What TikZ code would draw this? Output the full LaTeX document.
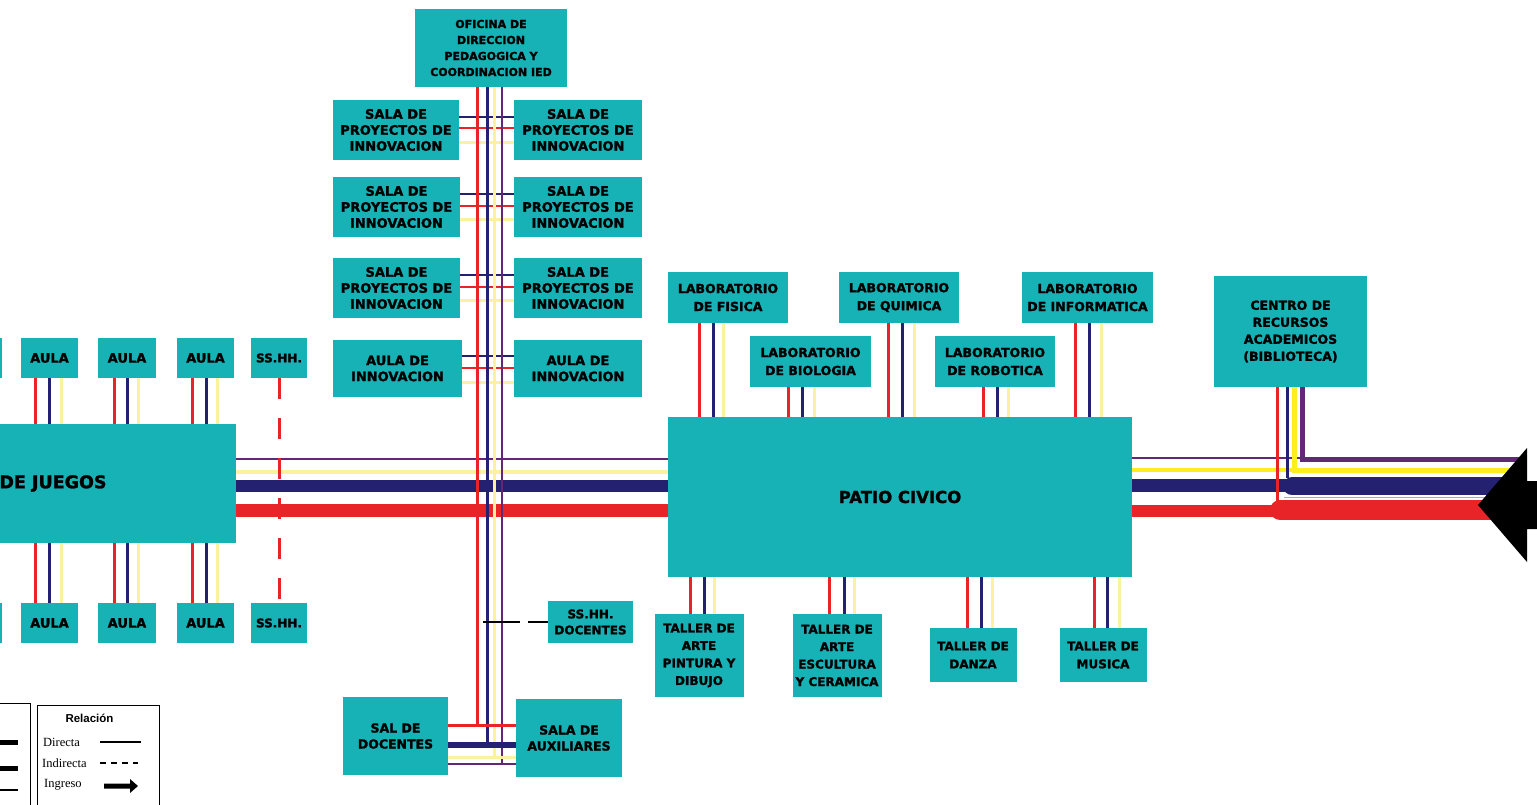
\documentclass[tikz,border=0pt]{standalone}
\usepackage{fontspec}
\setmainfont{Liberation Serif}
\newfontfamily\boxfont{DejaVu Sans}[BoldFeatures={FakeBold=1.5}]
\newfontfamily\legsans{Liberation Sans}
\definecolor{tealbox}{RGB}{22,178,182}
\definecolor{lred}{RGB}{232,36,40}
\definecolor{lnavy}{RGB}{36,34,112}
\definecolor{lyel}{RGB}{250,242,160}
\definecolor{byel}{RGB}{255,238,30}
\definecolor{lpur}{RGB}{98,40,118}
% vertical triple connector: #1 upper node, #2 lower node, #3 x red, #4 x navy, #5 x yellow
\newcommand\linkv[5]{%
  \draw[cr] (#3,0 |- #1.south) -- (#3,0 |- #2.north);
  \draw[cn] (#4,0 |- #1.south) -- (#4,0 |- #2.north);
  \draw[cy] (#5,0 |- #1.south) -- (#5,0 |- #2.north);}
% horizontal triple connector: #1 left node, #2 right node, #3 y navy, #4 y red, #5 y yellow
\newcommand\linkh[5]{%
  \draw[cn,line width=2.5pt] (#1.east |- 0,#3) -- (#2.west |- 0,#3);
  \draw[cr,line width=2.5pt] (#1.east |- 0,#4) -- (#2.west |- 0,#4);
  \draw[cy] (#1.east |- 0,#5) -- (#2.west |- 0,#5);}
\begin{document}
\begin{tikzpicture}[x=1pt,y=-1pt,
  box/.style={fill=tealbox, inner sep=0pt, align=center, text=black,
    font=\boxfont\bfseries\fontsize{13}{16}\selectfont},
  lab/.style={box, font=\boxfont\bfseries\fontsize{12.5}{18}\selectfont},
  tal/.style={box, font=\boxfont\bfseries\fontsize{12}{17.5}\selectfont},
  cr/.style={draw=lred, line width=3pt},
  cn/.style={draw=lnavy, line width=3pt},
  cy/.style={draw=lyel, line width=3pt},
  cp/.style={draw=lpur, line width=2pt},
  crd/.style={cr, dash pattern=on 21pt off 19pt},
  cbd/.style={draw=black, line width=2pt, dash pattern=on 37pt off 8pt},
  leg/.style={font=\fontsize{12.5}{14}\selectfont, anchor=west, inner sep=0pt}
]
\useasboundingbox (0,0) rectangle (1537,805);
\clip (0,0) rectangle (1537,805);

% ---------- boxes ----------
\node[box, minimum width=152pt, minimum height=78pt,
  font=\boxfont\bfseries\fontsize{11}{16}\selectfont] (office) at (491,48)
  {OFICINA DE\\DIRECCION\\PEDAGOGICA Y\\COORDINACION IED};
\node[box, minimum width=126pt, minimum height=60pt] (s1l) at (396,130) {SALA DE\\PROYECTOS DE\\INNOVACION};
\node[box, minimum width=128pt, minimum height=60pt] (s1r) at (578,130) {SALA DE\\PROYECTOS DE\\INNOVACION};
\node[box, minimum width=127pt, minimum height=60pt] (s2l) at (396.5,207) {SALA DE\\PROYECTOS DE\\INNOVACION};
\node[box, minimum width=128pt, minimum height=60pt] (s2r) at (578,207) {SALA DE\\PROYECTOS DE\\INNOVACION};
\node[box, minimum width=127pt, minimum height=60pt] (s3l) at (396.5,288) {SALA DE\\PROYECTOS DE\\INNOVACION};
\node[box, minimum width=128pt, minimum height=60pt] (s3r) at (578,288) {SALA DE\\PROYECTOS DE\\INNOVACION};
\node[box, minimum width=129pt, minimum height=57pt] (a4l) at (397.5,368.5) {AULA DE\\INNOVACION};
\node[box, minimum width=128pt, minimum height=57pt] (a4r) at (578,368.5) {AULA DE\\INNOVACION};

\node[box, minimum width=366pt, minimum height=119pt,
  font=\boxfont\bfseries\fontsize{17.5}{20}\selectfont] (juegos) at (53,483.5) {DE JUEGOS};
\node[box, minimum width=56pt, minimum height=40pt] (p1t) at (-26,358) {};
\node[box, minimum width=56pt, minimum height=40pt] (p1b) at (-26,623) {};
\node[box, minimum width=57pt, minimum height=40pt] (a1t) at (49.5,358) {AULA};
\node[box, minimum width=58pt, minimum height=40pt] (a2t) at (127,358) {AULA};
\node[box, minimum width=57pt, minimum height=40pt] (a3t) at (205.5,358) {AULA};
\node[box, minimum width=56pt, minimum height=40pt, font=\boxfont\bfseries\fontsize{12}{16}\selectfont] (sst) at (279,358) {SS.HH.};
\node[box, minimum width=57pt, minimum height=40pt] (a1b) at (49.5,623) {AULA};
\node[box, minimum width=58pt, minimum height=40pt] (a2b) at (127,623) {AULA};
\node[box, minimum width=57pt, minimum height=40pt] (a3b) at (205.5,623) {AULA};
\node[box, minimum width=56pt, minimum height=40pt, font=\boxfont\bfseries\fontsize{12}{16}\selectfont] (ssb) at (279,623) {SS.HH.};

\node[box, minimum width=464pt, minimum height=160pt,
  font=\boxfont\bfseries\fontsize{16.5}{19}\selectfont] (patio) at (900,497) {PATIO CIVICO};
\node[lab, minimum width=120pt, minimum height=51pt] (fis) at (728,297.5) {LABORATORIO\\DE FISICA};
\node[lab, minimum width=120pt, minimum height=51pt] (qui) at (899,297.5) {LABORATORIO\\DE QUIMICA};
\node[lab, minimum width=131pt, minimum height=51pt] (inf) at (1087.5,297.5) {LABORATORIO\\DE INFORMATICA};
\node[lab, minimum width=121pt, minimum height=51pt] (bio) at (810.5,361.5) {LABORATORIO\\DE BIOLOGIA};
\node[lab, minimum width=120pt, minimum height=51pt] (rob) at (995,361.5) {LABORATORIO\\DE ROBOTICA};
\node[box, minimum width=153pt, minimum height=111pt, font=\boxfont\bfseries\fontsize{12.5}{17}\selectfont] (centro) at (1290.5,331.5) {CENTRO DE\\RECURSOS\\ACADEMICOS\\(BIBLIOTECA)};

\node[tal, minimum width=89pt, minimum height=83pt] (pin) at (699,655.5) {TALLER DE\\ARTE\\PINTURA Y\\DIBUJO};
\node[tal, minimum width=89pt, minimum height=83pt] (esc) at (837,655.5) {TALLER DE\\ARTE\\ESCULTURA\\Y CERAMICA};
\node[tal, minimum width=87pt, minimum height=54pt, font=\boxfont\bfseries\fontsize{12}{18}\selectfont] (dan) at (973,655) {TALLER DE\\DANZA};
\node[tal, minimum width=87pt, minimum height=54pt, font=\boxfont\bfseries\fontsize{12}{18}\selectfont] (mus) at (1103,655) {TALLER DE\\MUSICA};

\node[box, minimum width=85pt, minimum height=42pt, font=\boxfont\bfseries\fontsize{12}{16}\selectfont] (ssd) at (590.5,622) {SS.HH.\\DOCENTES};
\node[box, minimum width=105pt, minimum height=78pt, font=\boxfont\bfseries\fontsize{12.5}{16}\selectfont] (doc) at (395.5,736) {SAL DE\\DOCENTES};
\node[box, minimum width=106pt, minimum height=78pt, font=\boxfont\bfseries\fontsize{12.5}{16}\selectfont] (aux) at (569,738) {SALA DE\\AUXILIARES};

% ---------- main bus (left) ----------
\draw[cp, line width=1.5pt] (juegos.east |- 0,459) -- (patio.west |- 0,459);
\draw[cy, line width=4pt] (juegos.east |- 0,472) -- (patio.west |- 0,472);
\draw[cn, line width=12pt] (juegos.east |- 0,486) -- (patio.west |- 0,486);
\draw[cr, line width=13pt] (juegos.east |- 0,510) -- (patio.west |- 0,510);

% ---------- main bus (right) ----------
\coordinate (ing) at (1520,505);
\draw[cp, line width=1.5pt] (patio.east |- 0,458) -- (1302,458);
\draw[draw=byel, line width=4pt] (patio.east |- 0,470) -- (1294,470);
\draw[cn, line width=13pt] (patio.east |- 0,485) -- (1292,485);
\draw[cr, line width=12pt] (patio.east |- 0,511) -- (1280,511);
\draw[draw=lpur!45, line width=1pt] (1284,497) -- (ing |- 0,497);
\draw[cn, line width=18pt, line cap=round] (1292,486) -- (ing |- 0,486);
\draw[cr, line width=20pt, line cap=round] (1280,510) -- (ing |- 0,510);
\draw[cr] (1277,0 |- centro.south) -- (1277,502);
\draw[cn] (1287,0 |- centro.south) -- (1287,478);
\draw[draw=byel, line width=5pt] (1294,0 |- centro.south) -- (1294,470) -- (ing |- 0,470);
\draw[cp, line width=5pt] (1302,0 |- centro.south) -- (1302,459) -- (ing |- 0,459);
\fill[black] (1478,505) -- (1527,448) -- (1527,481) -- (1545,481) -- (1545,529)
  -- (1527,529) -- (1527,562) -- cycle;

% ---------- aulas ----------
\linkv{a1t}{juegos}{35}{49}{61}
\linkv{a2t}{juegos}{114}{127}{138}
\linkv{a3t}{juegos}{192}{206}{217}
\linkv{juegos}{a1b}{35}{49}{61}
\linkv{juegos}{a2b}{114}{127}{138}
\linkv{juegos}{a3b}{192}{206}{217}
\draw[crd] (sst.south) -- (ssb.north);

% ---------- labs and talleres ----------
\linkv{fis}{patio}{699}{713}{723}
\linkv{bio}{patio}{788}{802}{814}
\linkv{qui}{patio}{888}{902}{914}
\linkv{rob}{patio}{983}{997}{1008}
\linkv{inf}{patio}{1075}{1089}{1101}
\linkv{patio}{pin}{690}{704}{714}
\linkv{patio}{esc}{829}{844}{854}
\linkv{patio}{dan}{967}{981}{992}
\linkv{patio}{mus}{1094}{1107}{1119}

% ---------- salas ----------
\linkh{s1l}{s1r}{117}{128}{143}
\linkh{s2l}{s2r}{194}{206}{220}
\linkh{s3l}{s3r}{275}{287}{300}
\linkh{a4l}{a4r}{356}{368}{382}

% ---------- vertical bus ----------
\draw[cr] (477,0 |- office.south) -- (477,725);
\draw[cn] (487,0 |- office.south) -- (487,745);
\draw[cy] (494,0 |- office.south) -- (494,757);
\draw[cp] (502,0 |- office.south) -- (502,764);
\draw[cr] (doc.east |- 0,725) -- (aux.west |- 0,725);
\draw[cn, line width=6pt] (doc.east |- 0,745) -- (aux.west |- 0,745);
\draw[cy] (doc.east |- 0,757) -- (aux.west |- 0,757);
\draw[cp] (doc.east |- 0,764) -- (aux.west |- 0,764);
\draw[cbd] (483,0 |- ssd.west) -- (ssd.west);

% ---------- legends ----------
\draw[line width=1pt] (-50,703) rectangle (30,830);
\draw[line width=5pt] (-10,742) -- (18,742);
\draw[line width=5pt] (-10,768) -- (18,768);
\draw[line width=1.5pt] (-10,790) -- (18,790);

\draw[line width=1pt] (37,705) rectangle (159,830);
\node[font=\legsans\bfseries\fontsize{11.5}{13}\selectfont, inner sep=0pt] (legt) at (89.5,718) {Relación};
\node[leg] (ld) at (43,742) {Directa};
\node[leg] (li) at (42,763) {Indirecta};
\node[leg] (lg) at (44,785) {Ingreso};
\draw[line width=1.2pt] (100,742) -- (141,742);
\draw[line width=1.2pt, dash pattern=on 6pt off 5pt] (100,763) -- (138,763);
\fill[black] (104,783.5) -- (130,783.5) -- (130,779) -- (138,786) -- (130,793)
  -- (130,788.5) -- (104,788.5) -- cycle;
\end{tikzpicture}
\end{document}
